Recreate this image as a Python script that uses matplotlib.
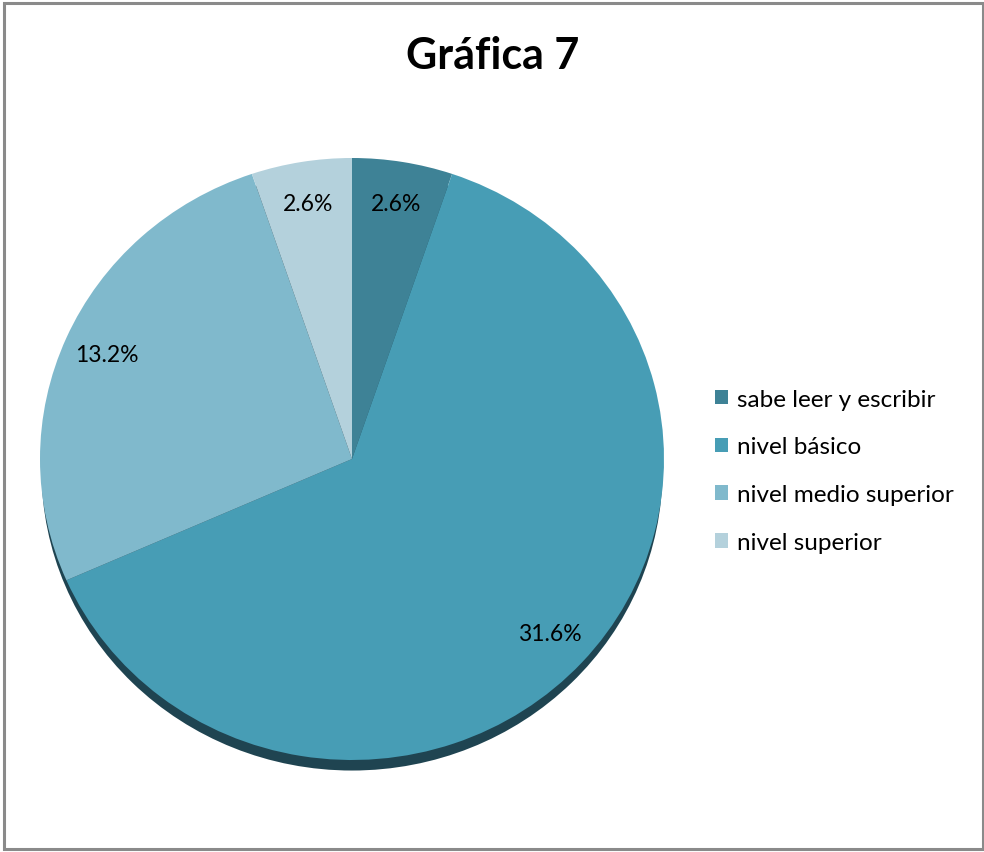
import matplotlib
matplotlib.use("Agg")
import matplotlib.pyplot as plt
from matplotlib.patches import Ellipse, Rectangle

# data (labels show the values themselves)
categories = ["sabe leer y escribir", "nivel básico", "nivel medio superior", "nivel superior"]
values = [2.6, 31.6, 13.2, 2.6]
colors = ["#3E8296", "#479DB5", "#80B9CC", "#B4D1DC"]

plt.rcParams["font.family"] = ["Lato", "DejaVu Sans"]

fig = plt.figure(figsize=(9.84, 8.53), dpi=100)
W, H = 984, 853

# outer frame
fig.patches.append(Rectangle((4 / W, 3 / H), 979 / W, 846 / H, transform=fig.transFigure,
                             fill=False, edgecolor="#8a8a8a", linewidth=2.2))

fig.text(493 / W, 1 - 56 / H, "Gráfica 7", ha="center", va="center",
         fontsize=31, fontweight="bold")

# pie axes: radius 1 -> 312 px wide, 301 px tall (slight tilt)
cx, cy, rx, ry = 352, 460, 312, 301
ax = fig.add_axes([(cx - 1.1 * rx) / W, (H - cy - 1.1 * ry) / H, 2.2 * rx / W, 2.2 * ry / H])

# dark edge underneath to fake the 3D depth
ax.add_patch(Ellipse((0, -0.04), 1.99, 1.99, facecolor="#1F4451", edgecolor="none", zorder=0))

total = sum(values)
wedges, texts, autotexts = ax.pie(
    values, colors=colors, startangle=90, counterclock=False,
    autopct=lambda p: f"{p * total / 100:.1f}%", pctdistance=0.86,
    wedgeprops=dict(linewidth=0), textprops=dict(fontsize=16.5, color="black"),
)
ax.set_xlim(-1.1, 1.1)
ax.set_ylim(-1.1, 1.1)
ax.set_aspect("auto")
ax.axis("off")
for w in wedges:
    w.set_zorder(1)

leg = fig.legend(wedges, categories, loc="upper left", bbox_to_anchor=(705 / W, 1 - 380 / H),
                 frameon=False, fontsize=17.5, handlelength=0.55, handleheight=0.55,
                 handletextpad=0.35, labelspacing=1.1, borderaxespad=0)

fig.savefig("out.png", dpi=100)
